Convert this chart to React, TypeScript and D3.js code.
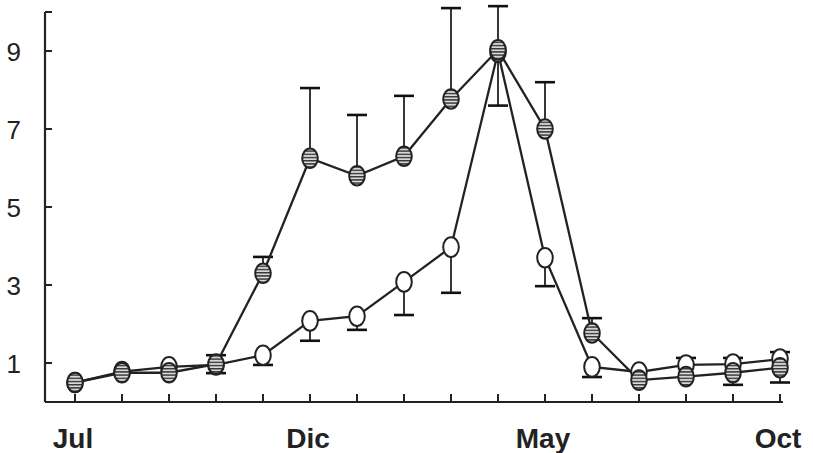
import React from "react";
import * as d3 from "d3";

const months = ["Jul", "", "", "", "", "Dic", "", "", "", "", "May", "", "", "", "", "Oct"];
const yTicks = [1, 3, 5, 7, 9];
const filledValues = [0.5, 0.75, 0.75, 0.97, 3.3, 6.25, 5.8, 6.3, 7.77, 9.03, 7.0, 1.77, 0.56, 0.65, 0.75, 0.88];
const openValues = [0.5, 0.78, 0.9, 0.95, 1.2, 2.08, 2.2, 3.08, 3.97, 8.97, 3.7, 0.9, 0.77, 0.95, 0.97, 1.1];
const filledUpper: (number | null)[] = [null, null, null, 1.2, 3.72, 8.05, 7.36, 7.85, 10.1, 10.15, 8.2, 2.15, null, null, null, null];
const filledLower: (number | null)[] = [null, null, null, null, null, null, null, null, null, null, null, null, null, null, 0.44, 0.5];
const openUpper: (number | null)[] = [null, null, null, null, null, null, null, null, null, null, null, null, null, 1.13, 1.13, 1.28];
const openLower: (number | null)[] = [null, null, null, 0.74, 0.95, 1.57, 1.85, 2.23, 2.8, 7.6, 2.97, 0.64, null, null, null, null];

const W = 813;
const H = 453;

export default function App() {
  const x = d3.scaleLinear().domain([0, months.length - 1]).range([75, 780]);
  const y = d3.scaleLinear().domain([0, 10]).range([402, 12]);
  const line = d3
    .line<number>()
    .x((_, i) => x(i))
    .y((d) => y(d));
  const axisX = 45;
  const axisY = y(0);
  const font = "'Liberation Sans', Arial, Helvetica, sans-serif";

  const errBars = (vals: number[], bounds: (number | null)[], key: string) =>
    bounds.map((b, i) =>
      b == null ? null : (
        <g key={key + i}>
          <line x1={x(i)} x2={x(i)} y1={y(vals[i])} y2={y(b)} stroke="#222" strokeWidth={1.8} />
          <line x1={x(i) - 10} x2={x(i) + 10} y1={y(b)} y2={y(b)} stroke="#111" strokeWidth={2.6} />
        </g>
      )
    );

  return (
    <svg
      width={W}
      height={H}
      style={{ position: "absolute", left: 0, top: 0, background: "#fff" }}
    >
      <defs>
        <pattern id="stripes" width="4" height="3.2" patternUnits="userSpaceOnUse">
          <rect width="4" height="3.2" fill="#d8d8d8" />
          <rect width="4" height="1.4" fill="#333" />
        </pattern>
      </defs>
      {/* axes */}
      <line x1={axisX} x2={axisX} y1={y(10)} y2={axisY} stroke="#222" strokeWidth={2.2} />
      <line x1={axisX} x2={783} y1={axisY} y2={axisY} stroke="#222" strokeWidth={2.2} />
      {[...yTicks, 10].map((t) => (
        <line key={"yt" + t} x1={axisX} x2={axisX + 7} y1={y(t)} y2={y(t)} stroke="#222" strokeWidth={2} />
      ))}
      {yTicks.map((t) => (
        <text key={"yl" + t} x={21} y={y(t) + 10} textAnchor="end" fontSize={26} fontFamily={font} fill="#222">
          {t}
        </text>
      ))}
      {months.map((m, i) => (
        <line key={"xt" + i} x1={x(i)} x2={x(i)} y1={axisY} y2={axisY - 8} stroke="#222" strokeWidth={2} />
      ))}
      {months.map((m, i) =>
        m ? (
          <text key={"xl" + i} x={x(i) - 2} y={448} textAnchor="middle" fontSize={28} fontWeight="bold" fontFamily={font} fill="#222">
            {m}
          </text>
        ) : null
      )}
      {/* error bars */}
      {errBars(filledValues, filledUpper, "fu")}
      {errBars(filledValues, filledLower, "fl")}
      {errBars(openValues, openUpper, "ou")}
      {errBars(openValues, openLower, "ol")}
      {/* lines */}
      <path d={line(openValues) || ""} fill="none" stroke="#222" strokeWidth={2.3} />
      <path d={line(filledValues) || ""} fill="none" stroke="#222" strokeWidth={2.3} />
      {/* markers */}
      {openValues.map((v, i) => (
        <ellipse key={"om" + i} cx={x(i)} cy={y(v)} rx={7.8} ry={9.8} fill="#fff" stroke="#222" strokeWidth={2} />
      ))}
      {filledValues.map((v, i) => (
        <ellipse key={"fm" + i} cx={x(i)} cy={y(v)} rx={7.8} ry={9.8} fill="url(#stripes)" stroke="#222" strokeWidth={2} />
      ))}
    </svg>
  );
}
